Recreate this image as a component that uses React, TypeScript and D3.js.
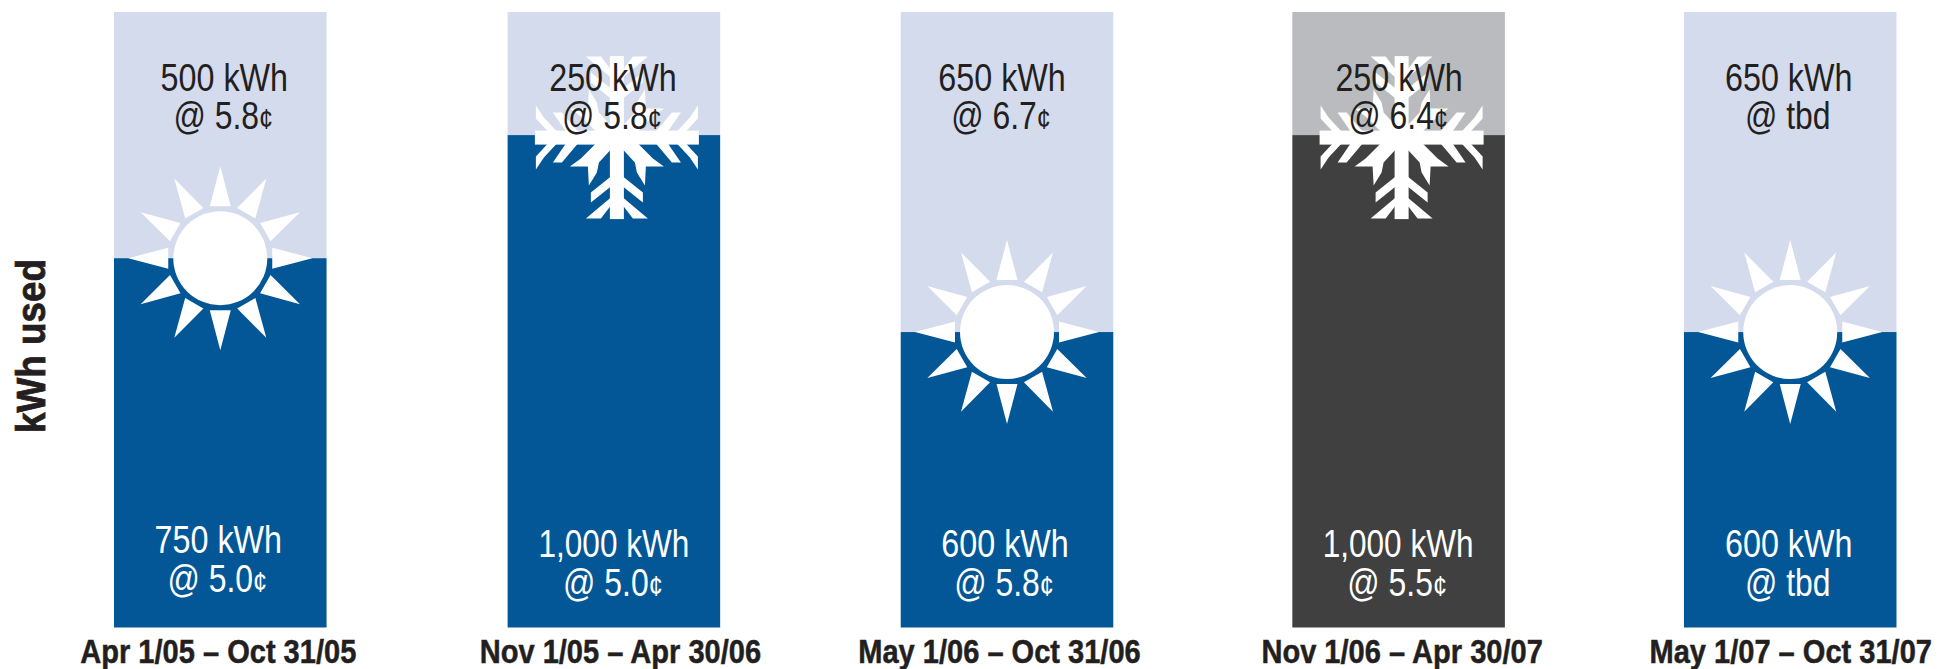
import React from 'react';
import * as d3 from 'd3';

const periods = ['Apr 1/05 – Oct 31/05', 'Nov 1/05 – Apr 30/06', 'May 1/06 – Oct 31/06', 'Nov 1/06 – Apr 30/07', 'May 1/07 – Oct 31/07'];
const tier1Kwh = [750, 1000, 600, 1000, 600];
const tier2Kwh = [500, 250, 650, 250, 650];
const tier1Price = ['5.0¢', '5.0¢', '5.8¢', '5.5¢', 'tbd'];
const tier2Price = ['5.8¢', '5.8¢', '6.7¢', '6.4¢', 'tbd'];
const seasons = ['sun', 'snow', 'sun', 'snow', 'sun'];
const isActual = [false, false, false, true, false];

const WIDTH = 1940;
const HEIGHT = 669;
const FONT = "'Liberation Sans', sans-serif";

const x = d3.scaleBand<string>().domain(periods).range([114, 1897]).paddingInner(0.4586);
const y = d3.scaleLinear().domain([0, 1250]).range([627.5, 12]);

// the original is hand placed, so bars and labels need small nudges
const barNudge = [0, 1, 1.5, 0.5, -0.5];
const topNudge = [4, -1, -5, 0.5, -1.5];
const bottomNudge = [-2, 0, -2, -0.5, -1.5];
const bottomBaseline = [553, 557, 557, 557, 557];
const axisNudge = [-2, 6.5, -7.5, 3.5, 0.5];

// one quadrant of the snowflake, mirrored into the other three
const flakeQuadrant = [
  [[-81, 32], [-81, 19], [-69, 6], [-60, 6], [-73, 20]],
  [[-64, 25], [-51, 6], [-39, 6], [-55, 25]],
  [[-47, 29], [-36, 21], [-21, 6], [-6, 6], [-6, 12], [-18, 25], [-20, 35], [-28, 48], [-29, 29]],
  [[-26, 55], [-6, 39], [-6, 49], [-26, 65]],
  [[-31, 81], [-6, 60], [-6, 68], [-16, 81]],
];
const quadrants = [[1, 1], [-1, 1], [1, -1], [-1, -1]];

const Sun: React.FC<{ cx: number; cy: number }> = ({ cx, cy }) => (
  <g transform={`translate(${cx},${cy})`} fill="#fff">
    <circle r={47} />
    {d3.range(12).map(i => (
      <polygon key={i} points="-10.5,-52 10.5,-52 0,-92" transform={`rotate(${i * 30})`} />
    ))}
  </g>
);

const Flake: React.FC<{ cx: number; cy: number }> = ({ cx, cy }) => (
  <g transform={`translate(${cx},${cy})`} fill="#fff">
    <rect x={-7} y={-81.5} width={14} height={163} />
    <rect x={-82} y={-7} width={164} height={14} />
    {quadrants.map(([sx, sy], q) => (
      <g key={q} transform={`scale(${sx},${sy})`}>
        {flakeQuadrant.map((pts, i) => (
          <polygon key={i} points={pts.join(' ')} />
        ))}
      </g>
    ))}
  </g>
);

// no condensed face is installed, so squeeze the regular one
const Squeezed: React.FC<{ x: number; y: number; sx: number; children: React.ReactNode }> = ({ x: tx, y: ty, sx, children }) => (
  <text transform={`translate(${tx},${ty}) scale(${sx},1)`} textAnchor="middle">{children}</text>
);

// the cent sign is much narrower in the original
const priceText = (price: string) =>
  price.endsWith('¢') ? (
    <>
      @ {price.slice(0, -1)}
      <tspan fontSize={30}>¢</tspan>
    </>
  ) : (
    <>@ {price}</>
  );

const App: React.FC = () => {
  const bw = x.bandwidth();
  return (
    <svg width={WIDTH} height={HEIGHT} style={{ position: 'absolute', left: 0, top: 0 }} fontFamily={FONT}>
      <rect width={WIDTH} height={HEIGHT} fill="#fff" />
      {periods.map((p, i) => {
        const bx = (x(p) as number) + barNudge[i];
        const mid = bx + bw / 2;
        const split = y(tier1Kwh[i]);
        const top = y(tier1Kwh[i] + tier2Kwh[i]);
        const lowColor = isActual[i] ? '#404040' : '#035797';
        const highColor = isActual[i] ? '#b9bbbf' : '#d4dbec';
        return (
          <g key={p}>
            <rect x={bx} y={top} width={bw} height={split - top} fill={highColor} />
            <rect x={bx} y={split} width={bw} height={y(0) - split} fill={lowColor} />
            {seasons[i] === 'sun' ? <Sun cx={mid} cy={split} /> : <Flake cx={mid + 3} cy={split + 2.5} />}
            <g fontSize={38} fill="#231f20">
              <Squeezed x={mid + topNudge[i]} y={91} sx={0.85}>{d3.format(',')(tier2Kwh[i])} kWh</Squeezed>
              <Squeezed x={mid + topNudge[i] - 1} y={129} sx={0.84}>{priceText(tier2Price[i])}</Squeezed>
            </g>
            <g fontSize={38} fill="#fff">
              <Squeezed x={mid + bottomNudge[i]} y={bottomBaseline[i]} sx={tier1Kwh[i] === 1000 ? 0.83 : 0.85}>{d3.format(',')(tier1Kwh[i])} kWh</Squeezed>
              <Squeezed x={mid + bottomNudge[i] - 1} y={bottomBaseline[i] + 39} sx={0.84}>{priceText(tier1Price[i])}</Squeezed>
            </g>
            <g fontSize={33} fontWeight="bold" fill="#231f20" stroke="#231f20" strokeWidth={0.5}>
              <Squeezed x={mid + axisNudge[i]} y={663} sx={0.88}>{p}</Squeezed>
            </g>
          </g>
        );
      })}
      <g fontSize={40} fontWeight="bold" fill="#231f20" stroke="#231f20" strokeWidth={0.8}>
        <text transform="translate(45,346) rotate(-90) scale(0.92,1)" textAnchor="middle">kWh used</text>
      </g>
    </svg>
  );
};

export default App;
